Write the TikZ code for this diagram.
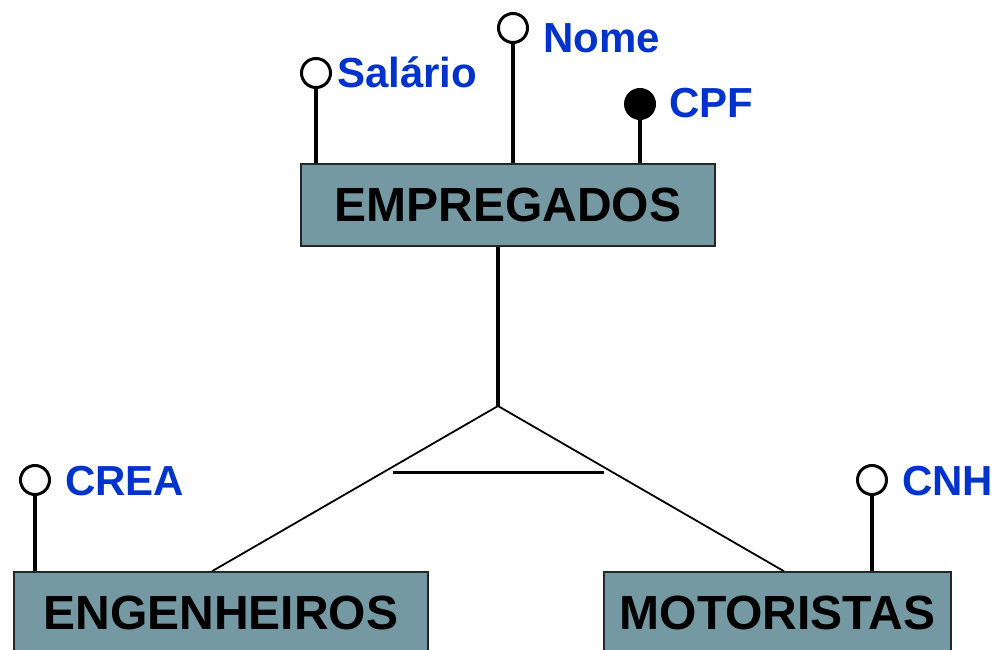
\documentclass[tikz,border=0pt]{standalone}
\usepackage{fontspec}
\setmainfont{Liberation Sans}
\usetikzlibrary{positioning}
\definecolor{entfill}{RGB}{117,153,163}
\definecolor{attblue}{RGB}{0,51,204}
\tikzset{
  entity/.style={draw=black!85,line width=1.5pt,fill=entfill,inner sep=0pt,minimum height=82pt,font=\fontsize{48}{50}\selectfont\bfseries},
  attr/.style={circle,draw,line width=3pt,fill=white,minimum size=29pt,inner sep=0pt},
  keyattr/.style={attr,fill=black},
  attrlabel/.style={anchor=base west,text=attblue,inner sep=0pt,font=\fontsize{42}{45}\selectfont\bfseries},
  link/.style={line width=3.5pt},
  isa/.style={line width=1.8pt}
}
\begin{document}
\begin{tikzpicture}[x=1pt,y=-1pt]
            \useasboundingbox (0,0) rectangle (994,650);
            % entities
            \node[entity,minimum width=414pt] (emp) at (508,205) {EMPREGADOS};
            \node[entity,minimum width=414pt] (eng) at (221,613) {ENGENHEIROS};
            \node[entity,minimum width=347pt] (mot) at (777.5,613) {MOTORISTAS};
            % attributes
            \node[attr] (sal) at (316,73) {};
            \node[attr] (nom) at (513,28) {};
            \node[keyattr] (cpf) at (640,104) {};
            \node[attr] (crea) at (35,480) {};
            \node[attr] (cnh) at (872,480) {};
            \node[attrlabel] (salt) at (337,88) {Salário};
            \node[attrlabel] (nomt) at (543,53) {Nome};
            \node[attrlabel] (cpft) at (669,118) {CPF};
            \node[attrlabel] (creat) at (65,495) {CREA};
            \node[attrlabel] (cnht) at (902,495) {CNH};
            \draw[link] (sal) -- (sal |- emp.north);
            \draw[link] (nom) -- (nom |- emp.north);
            \draw[link] (cpf) -- (cpf |- emp.north);
            \draw[link] (crea) -- (crea |- eng.north);
            \draw[link] (cnh) -- (cnh |- mot.north);
            % specialization
            \coordinate (apex) at (498,406);
            \coordinate (barl) at (393,472);
            \coordinate (barr) at (604,472);
            \draw[link] (apex |- emp.south) -- (apex);
            \draw[isa] (apex) -- ([xshift=-9pt]eng.north);
            \draw[isa] (apex) -- ([xshift=6.5pt]mot.north);
            \draw[isa,line width=3pt] (barl) -- (barr);
\end{tikzpicture}
\end{document}
